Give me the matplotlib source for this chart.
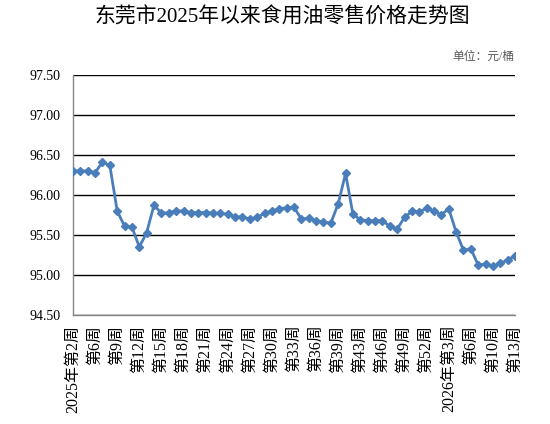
import matplotlib
matplotlib.use("Agg")
import matplotlib.pyplot as plt
import numpy as np

plt.rcParams['font.family'] = ['Liberation Serif', 'Noto Sans CJK SC', 'DejaVu Sans']

prices = [96.30, 96.30, 96.30, 96.28, 96.41, 96.37, 95.80, 95.61, 95.60, 95.35,
          95.53, 95.875, 95.77, 95.78, 95.80, 95.80, 95.78, 95.78, 95.78, 95.775,
          95.77, 95.76, 95.73, 95.725, 95.70, 95.72, 95.77, 95.80, 95.83, 95.84,
          95.845, 95.70, 95.71, 95.68, 95.66, 95.65, 95.89, 96.27, 95.76, 95.69,
          95.68, 95.68, 95.68, 95.61, 95.575, 95.72, 95.795, 95.79, 95.833, 95.80,
          95.75, 95.83, 95.54, 95.31, 95.33, 95.125, 95.137, 95.11, 95.146, 95.19,
          95.24]

tick_labels = ['2025年第2周', '第6周', '第9周', '第12周', '第15周', '第18周', '第21周',
               '第24周', '第27周', '第30周', '第33周', '第36周', '第39周', '第43周',
               '第46周', '第49周', '第52周', '2026年第3周', '第6周', '第10周', '第13周']
tick_step = 3

y_ticks = [94.50, 95.00, 95.50, 96.00, 96.50, 97.00, 97.50]

title = '东莞市2025年以来食用油零售价格走势图'
unit = '单位：元/桶'

fig = plt.figure(figsize=(5.5, 4.24), dpi=100)
ax = fig.add_axes([73/550, 1-315/424, (515-73)/550, (315-75)/424])

x = np.arange(len(prices))
ax.plot(x, prices, color='#4A7EBB', lw=2.0, marker='D', ms=4.5,
        markerfacecolor='#4A7EBB', markeredgecolor='#4A7EBB', zorder=3)

ax.set_xlim(0, len(prices) - 1)
ax.set_ylim(y_ticks[0], y_ticks[-1])
ax.set_yticks(y_ticks)
ax.set_yticklabels([f'{v:.2f}' for v in y_ticks], fontsize=10)
ax.yaxis.grid(True, color='black', lw=1)
ax.set_axisbelow(True)

ax.set_xticks(x[::tick_step])
ax.set_xticklabels(tick_labels, rotation=90, fontsize=11.5)

ax.tick_params(axis='both', length=0)
ax.tick_params(axis='x', pad=7)
ax.tick_params(axis='y', pad=9)
for s in ['top', 'right']:
    ax.spines[s].set_visible(False)
for s in ['left', 'bottom']:
    ax.spines[s].set_color('#868686')
    ax.spines[s].set_linewidth(1)

fig.text(282/550, 1-18/424, title, ha='center', va='center', fontsize=15)
fig.text(514/550, 1-57/424, unit, ha='right', va='center', fontsize=8.5, color='#595959')

fig.savefig('out.png', dpi=100)
